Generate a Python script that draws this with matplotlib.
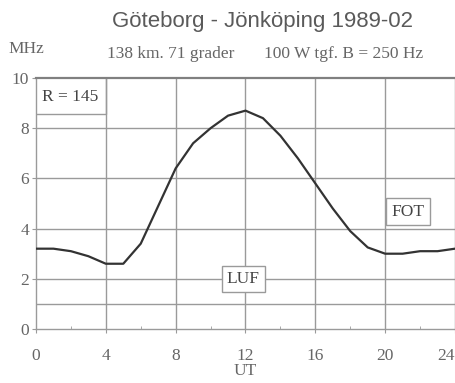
import matplotlib.pyplot as plt

# Data
HOURS = list(range(25))
FOT = [3.2, 3.2, 3.1, 2.9, 2.6, 2.6, 3.4, 4.9, 6.4, 7.4, 8.0, 8.5, 8.7,
       8.4, 7.7, 6.8, 5.8, 4.8, 3.9, 3.25, 3.0, 3.0, 3.1, 3.1, 3.2]
LUF = [1.0] * 25

X_TICKS = [0, 4, 8, 12, 16, 20, 24]
Y_TICKS = [0, 2, 4, 6, 8, 10]

TITLE = "Göteborg - Jönköping 1989-02"
SUB_LEFT = "138 km. 71 grader"
SUB_RIGHT = "100 W tgf. B = 250 Hz"

GRID = "#9a9a9a"
TEXT = "#666666"
DARK = "#444444"
SERIF = "Liberation Serif"
FS = 12.5


def px(x, y):
    # pixel position -> figure fraction
    return x / 456, 1 - y / 383


def build_plot():
    fig = plt.figure(figsize=(4.56, 3.83), dpi=100)
    ax = fig.add_axes([36 / 456, 1 - 329 / 383, 419 / 456, 251 / 383])

    ax.set_xlim(0, 24)
    ax.set_ylim(0, 10)

    for x in X_TICKS[1:-1]:
        ax.axvline(x, color=GRID, lw=1.0, zorder=1)
    for y in Y_TICKS[1:-1]:
        ax.axhline(y, color=GRID, lw=1.0, zorder=1)

    ax.plot(HOURS, LUF, color=GRID, lw=1.0, zorder=2)
    ax.plot(HOURS, FOT, color="#333333", lw=1.6, zorder=3)

    for side in ["top", "bottom", "left", "right"]:
        ax.spines[side].set_color(GRID)
        ax.spines[side].set_linewidth(1.0)
    ax.spines["top"].set_linewidth(1.6)
    ax.spines["top"].set_color("#808080")

    ax.set_xticks(X_TICKS)
    ax.set_yticks(Y_TICKS)
    ax.set_xticks([2, 6, 10, 14, 18, 22], minor=True)
    ax.tick_params(axis="both", which="major", length=3, color=GRID,
                   labelcolor=TEXT, labelsize=FS)
    ax.tick_params(axis="x", which="minor", direction="in", length=2, color=GRID)
    ax.tick_params(axis="x", pad=11)
    ax.tick_params(axis="y", pad=2)
    for lbl in ax.get_xticklabels() + ax.get_yticklabels():
        lbl.set_fontfamily(SERIF)
    ax.get_xticklabels()[-1].set_horizontalalignment("right")

    ax.set_xlabel("UT", fontfamily=SERIF, color=TEXT, fontsize=FS, labelpad=-1)

    # Boxed labels
    ax.text(0.34, 9.25, "R = 145", fontfamily=SERIF, fontsize=FS, color=DARK,
            ha="left", va="center", zorder=4)
    ax.plot([0, 4, 4], [8.57, 8.57, 10], color=GRID, lw=1.0, zorder=2)

    box = dict(boxstyle="square,pad=0.3", fc="white", ec=GRID, lw=1.0)
    ax.text(11.88, 2.0, "LUF", fontfamily=SERIF, fontsize=FS, color=DARK,
            ha="center", va="center", bbox=box, zorder=4)
    ax.text(21.3, 4.68, "FOT", fontfamily=SERIF, fontsize=FS, color=DARK,
            ha="center", va="center", bbox=box, zorder=4)

    fig.text(*px(262, 22), TITLE, fontfamily="Liberation Sans",
             fontsize=16, color="#5a5a5a", ha="center", va="center")
    fig.text(*px(171, 54), SUB_LEFT, fontfamily=SERIF,
             fontsize=FS, color=TEXT, ha="center", va="center")
    fig.text(*px(344, 54), SUB_RIGHT, fontfamily=SERIF,
             fontsize=FS, color=TEXT, ha="center", va="center")
    fig.text(*px(26, 49), "MHz", fontfamily=SERIF,
             fontsize=FS, color=TEXT, ha="center", va="center")

    fig.savefig("out.png", dpi=100)


if __name__ == "__main__":
    build_plot()
